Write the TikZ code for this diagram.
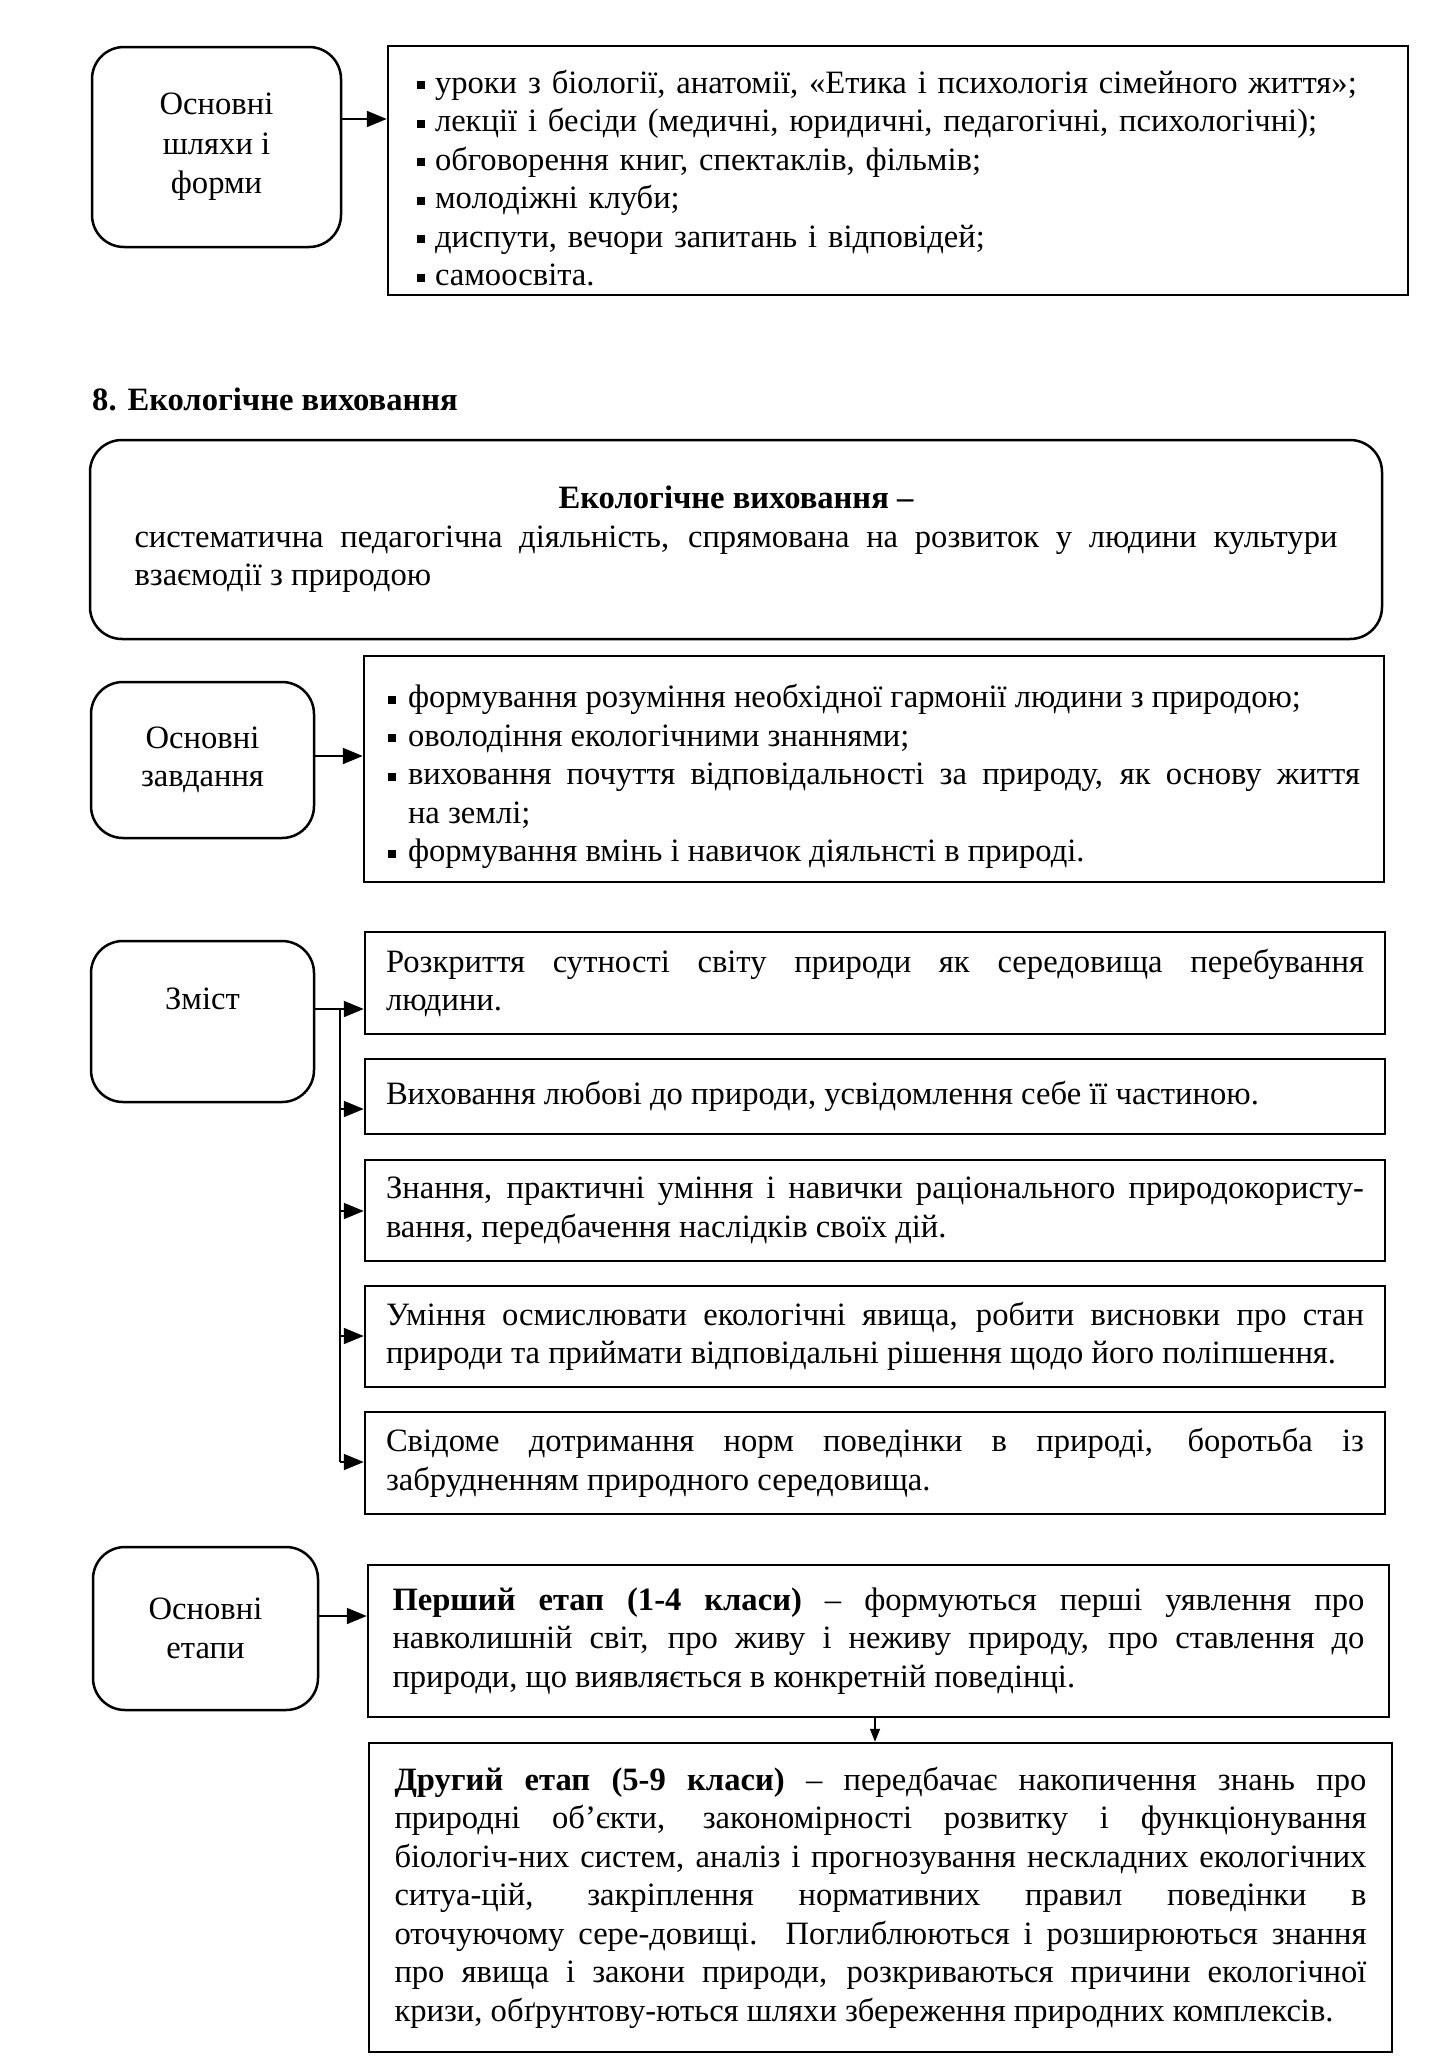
\documentclass[tikz,border=0pt]{standalone}
\usepackage{fontspec}
\setmainfont{Liberation Serif}
\usetikzlibrary{arrows.meta}
\setlength{\parindent}{0pt}
\hyphenpenalty=10000
\exhyphenpenalty=10000
\newcommand\blt{\rule[4pt]{8pt}{8pt}}
\newcommand\itmA{\par\hangindent=18pt\hangafter=1\noindent\makebox[18pt][l]{\blt}}
\newcommand\itmB{\par\hangindent=20pt\hangafter=1\noindent\makebox[20pt][l]{\blt}}
\begin{document}
\begin{tikzpicture}[x=1pt,y=-1pt,
  every node/.style={font=\fontsize{32.6}{38.5}\selectfont},
  rbox/.style={draw, line width=2.5pt, rounded corners=32pt, align=center, inner sep=0pt},
  sbox/.style={draw, line width=2.5pt, inner sep=0pt},
  arr/.style={line width=2pt, -{Triangle[length=20pt,width=16pt]}},
  arrsmall/.style={line width=1.4pt, -{Triangle[length=13pt,width=10pt]}},
  lnk/.style={line width=2pt}]
\useasboundingbox (0,0) rectangle (1437,2072);
\fill[white] (0,0) rectangle (1437,2072);

% ---- section 1
\node[rbox, minimum width=249pt, minimum height=200pt, font=\fontsize{32.6}{39.5}\selectfont] (A) at (216.5,147) {Основні\\шляхи і\\форми};
\node[sbox, minimum width=1020pt, minimum height=249pt, text width=962pt, align=left] (B) at (898,170.5)
 {\itmA\mbox{уроки з біології, анатомії, «Етика і психологія сімейного життя»;}%
  \itmA\mbox{лекції і бесіди (медичні, юридичні, педагогічні, психологічні);}%
  \itmA обговорення книг, спектаклів, фільмів;%
  \itmA молодіжні клуби;%
  \itmA диспути, вечори запитань і відповідей;%
  \itmA самоосвіта.};
\coordinate (y1) at (0,119);
\draw[arr] (A.east |- y1) -- (B.west |- y1);

% ---- heading
\node[anchor=west, inner sep=0pt, font=\fontsize{32.6}{38.5}\selectfont\bfseries] (H8) at (92,399) {8. Екологічне виховання};

% ---- definition
\node[rbox, minimum width=1292pt, minimum height=199pt, text width=1203pt, align=justify] (C) at (736,539.5)
 {\hspace*{\fill}\textbf{Екологічне виховання –}\hspace*{\fill}\null\par
  систематична педагогічна діяльність, спрямована на розвиток у людини культури\linebreak взаємодії з природою};

% ---- tasks
\node[rbox, minimum width=223pt, minimum height=156pt] (D) at (202.5,760) {Основні\\завдання};
\node[sbox, minimum width=1020pt, minimum height=226pt, text width=972pt, align=justify] (E) at (874,769)
 {\itmB формування розуміння необхідної гармонії людини з природою;%
  \itmB оволодіння екологічними знаннями;%
  \itmB виховання почуття відповідальності за природу, як основу життя\linebreak на землі;%
  \itmB формування вмінь і навичок діяльнсті в природі.};
\coordinate (y2) at (0,756);
\draw[arr] (D.east |- y2) -- (E.west |- y2);

% ---- content
\node[rbox, minimum width=223pt, minimum height=161pt] (F) at (202.5,1021.5) {};
\node (Ft) at (202.5,999) {Зміст};
\node[sbox, minimum width=1020pt, minimum height=102pt, text width=978pt, align=justify] (G1) at (875,983)
 {Розкриття сутності світу природи як середовища перебування\linebreak людини.};
\node[sbox, minimum width=1020pt, minimum height=75pt, text width=978pt, align=justify] (G2) at (875,1096.5)
 {Виховання любові до природи, усвідомлення себе її частиною.};
\node[sbox, minimum width=1020pt, minimum height=101pt, text width=978pt, align=justify] (G3) at (875,1210.5)
 {Знання, практичні уміння і навички раціонального природокористу-\linebreak вання, передбачення наслідків своїх дій.};
\node[sbox, minimum width=1020pt, minimum height=101pt, text width=978pt, align=justify] (G4) at (875,1336.5)
 {Уміння осмислювати екологічні явища, робити висновки про стан\linebreak \mbox{природи та приймати відповідальні рішення щодо його поліпшення.}};
\node[sbox, minimum width=1020pt, minimum height=102pt, text width=978pt, align=justify] (G5) at (875,1463)
 {Свідоме дотримання норм поведінки в природі, боротьба із\linebreak забрудненням природного середовища.};
\coordinate (j1) at (340,1009);
\coordinate (j2) at (340,1109);
\coordinate (j3) at (340,1211);
\coordinate (j4) at (340,1336);
\coordinate (j5) at (340,1462);
\draw[lnk] (F.east |- j1) -- (j1) -- (j5);
\draw[arr] (j1) -- (G1.west |- j1);
\draw[arr] (j2) -- (G2.west |- j2);
\draw[arr] (j3) -- (G3.west |- j3);
\draw[arr] (j4) -- (G4.west |- j4);
\draw[arr] (j5) -- (G5.west |- j5);

% ---- stages
\node[rbox, minimum width=225pt, minimum height=163pt] (H) at (205.5,1628.5) {Основні\\етапи};
\node[sbox, minimum width=1021pt, minimum height=152pt, text width=972pt, align=justify] (I) at (878.5,1641)
 {\textbf{Перший етап (1-4 класи)} – формуються перші уявлення про\linebreak навколишній світ, про живу і неживу природу, про ставлення до\linebreak природи, що виявляється в конкретній поведінці.};
\node[sbox, minimum width=1023pt, minimum height=309pt, text width=972pt, align=justify] (J) at (880.5,1897.5)
 {\textbf{Другий етап (5-9 класи)} – передбачає накопичення знань про\linebreak природні об’єкти, закономірності розвитку і функціонування\linebreak біологіч-них систем, аналіз і прогнозування нескладних екологічних\linebreak ситуа-цій, закріплення нормативних правил поведінки в\linebreak оточуючому сере-довищі. Поглиблюються і розширюються знання\linebreak про явища і закони природи, розкриваються причини екологічної\linebreak \mbox{кризи, обґрунтову-ються шляхи збереження природних комплексів.}};
\coordinate (y3) at (0,1616);
\draw[arr] (H.east |- y3) -- (I.west |- y3);
\coordinate (xa) at (875,0);
\draw[arrsmall] (I.south -| xa) -- (J.north -| xa);
\end{tikzpicture}
\end{document}
